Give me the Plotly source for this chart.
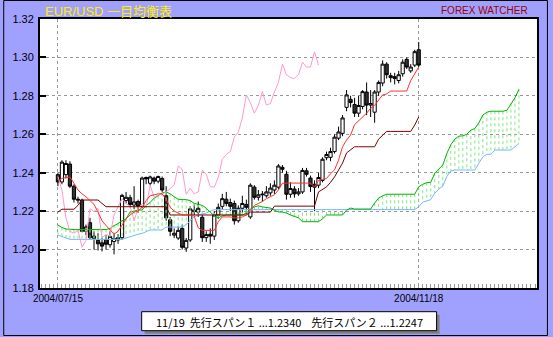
import plotly.graph_objects as go

# ---------------- data ----------------
open_ = [1.2390,1.2352,1.2390,1.2445,1.2330,1.2262,1.2258,1.2095,1.2140,1.2058,
         1.2048,1.2035,1.2052,1.2025,1.2042,1.2062,1.2062,1.2255,1.2270,1.2232,
         1.2250,1.2225,1.2375,1.2345,1.2372,1.2356,1.2370,1.2280,1.2155,1.2075,
         1.2060,1.2110,1.2008,1.2050,1.2205,1.2195,1.2168,1.2062,1.2080,1.2070,
         1.2180,1.2225,1.2262,1.2245,1.2240,1.2150,1.2215,1.2235,1.2170,1.2325,
         1.2272,1.2285,1.2280,1.2295,1.2310,1.2325,1.2428,1.2392,1.2288,1.2315,
         1.2290,1.2300,1.2410,1.2372,1.2340,1.2335,1.2360,1.2478,1.2480,1.2510,
         1.2580,1.2605,1.2740,1.2782,1.2755,1.2710,1.2745,1.2820,1.2752,1.2715,
         1.2820,1.2867,1.2965,1.2905,1.2900,1.2880,1.2915,1.2990,1.2930,1.2960,
         1.3040]
high = [1.2400,1.2465,1.2465,1.2460,1.2340,1.2275,1.2265,1.2130,1.2165,1.2095,
        1.2085,1.2060,1.2075,1.2095,1.2085,1.2080,1.2290,1.2300,1.2285,1.2330,
        1.2260,1.2380,1.2380,1.2385,1.2380,1.2385,1.2380,1.2330,1.2170,1.2110,
        1.2120,1.2130,1.2060,1.2225,1.2235,1.2250,1.2180,1.2095,1.2110,1.2200,
        1.2240,1.2290,1.2300,1.2265,1.2255,1.2230,1.2280,1.2260,1.2345,1.2335,
        1.2310,1.2305,1.2330,1.2345,1.2360,1.2445,1.2440,1.2410,1.2350,1.2330,
        1.2320,1.2425,1.2425,1.2385,1.2360,1.2400,1.2480,1.2510,1.2530,1.2600,
        1.2640,1.2700,1.2830,1.2800,1.2790,1.2800,1.2830,1.2870,1.2830,1.2830,
        1.2880,1.2985,1.2975,1.2920,1.2920,1.2930,1.2990,1.3000,1.2965,1.3040,
        1.3080]
low = [1.2330,1.2340,1.2370,1.2320,1.2245,1.2240,1.2090,1.2075,1.2050,1.2000,
       1.1995,1.1990,1.2000,1.2010,1.1975,1.2030,1.2050,1.2240,1.2220,1.2210,
       1.2190,1.2215,1.2340,1.2335,1.2340,1.2345,1.2300,1.2150,1.2070,1.2060,
       1.2050,1.2000,1.1988,1.2040,1.2180,1.2170,1.2040,1.2040,1.2030,1.2050,
       1.2160,1.2210,1.2225,1.2200,1.2130,1.2140,1.2190,1.2180,1.2160,1.2260,
       1.2255,1.2250,1.2270,1.2280,1.2290,1.2315,1.2400,1.2260,1.2270,1.2270,
       1.2280,1.2290,1.2380,1.2300,1.2200,1.2320,1.2350,1.2465,1.2460,1.2500,
       1.2570,1.2590,1.2720,1.2740,1.2690,1.2690,1.2730,1.2700,1.2690,1.2660,
       1.2800,1.2850,1.2890,1.2870,1.2860,1.2865,1.2900,1.2940,1.2920,1.2950,
       1.2950]
close = [1.2352,1.2455,1.2448,1.2330,1.2262,1.2258,1.2095,1.2118,1.2062,1.2070,
         1.2030,1.2018,1.2028,1.2068,1.2058,1.2050,1.2282,1.2272,1.2235,1.2248,
         1.2225,1.2372,1.2368,1.2378,1.2356,1.2380,1.2310,1.2165,1.2095,1.2085,
         1.2100,1.2012,1.2048,1.2212,1.2198,1.2215,1.2062,1.2078,1.2070,1.2180,
         1.2220,1.2265,1.2240,1.2225,1.2150,1.2215,1.2240,1.2220,1.2335,1.2272,
         1.2285,1.2288,1.2300,1.2320,1.2335,1.2435,1.2418,1.2288,1.2318,1.2290,
         1.2300,1.2412,1.2392,1.2328,1.2325,1.2375,1.2470,1.2495,1.2510,1.2585,
         1.2612,1.2685,1.2805,1.2765,1.2710,1.2750,1.2822,1.2752,1.2760,1.2820,
         1.2870,1.2965,1.2910,1.2895,1.2890,1.2910,1.2975,1.2950,1.2950,1.3030,
         1.2960]

tenkan = [1.2355,1.2370,1.2375,1.2378,1.2345,1.2310,1.2290,1.2275,1.2255,1.2235,
          1.2195,1.2150,1.2125,1.2100,1.2080,1.2095,1.2128,1.2160,1.2180,1.2195,
          1.2200,1.2220,1.2255,1.2280,1.2285,1.2290,1.2290,1.2262,1.2220,1.2200,
          1.2190,1.2180,1.2180,1.2180,1.2175,1.2113,1.2100,1.2100,1.2100,1.2100,
          1.2145,1.2170,1.2170,1.2170,1.2165,1.2165,1.2170,1.2180,1.2205,1.2230,
          1.2240,1.2250,1.2265,1.2275,1.2285,1.2310,1.2345,1.2346,1.2346,1.2346,
          1.2346,1.2346,1.2346,1.2346,1.2325,1.2360,1.2365,1.2370,1.2395,1.2415,
          1.2465,1.2535,1.2570,1.2596,1.2650,1.2670,1.2685,1.2710,1.2735,1.2750,
          1.2778,1.2805,1.2810,1.2825,1.2825,1.2825,1.2825,1.2825,1.2880,1.2915,
          1.2950]
kijun = [1.2195,1.2210,1.2210,1.2210,1.2210,1.2230,1.2258,1.2258,1.2258,1.2258,
         1.2258,1.2240,1.2223,1.2223,1.2223,1.2223,1.2223,1.2223,1.2223,1.2223,
         1.2223,1.2223,1.2223,1.2223,1.2223,1.2223,1.2223,1.2223,1.2180,1.2180,
         1.2180,1.2180,1.2180,1.2180,1.2180,1.2180,1.2180,1.2180,1.2180,1.2180,
         1.2180,1.2180,1.2180,1.2180,1.2180,1.2180,1.2180,1.2180,1.2195,1.2195,
         1.2195,1.2195,1.2195,1.2195,1.2226,1.2226,1.2226,1.2226,1.2226,1.2226,
         1.2226,1.2226,1.2226,1.2226,1.2226,1.2300,1.2315,1.2326,1.2350,1.2378,
         1.2414,1.2450,1.2503,1.2520,1.2535,1.2535,1.2535,1.2535,1.2535,1.2535,
         1.2575,1.2597,1.2615,1.2615,1.2615,1.2615,1.2615,1.2615,1.2615,1.2648,
         1.2690]
span1 = [1.2128,1.2115,1.2107,1.2104,1.2104,1.2104,1.2104,1.2104,1.2104,1.2104,
         1.2104,1.2104,1.2104,1.2110,1.2125,1.2135,1.2150,1.2160,1.2196,1.2200,
         1.2206,1.2206,1.2230,1.2245,1.2268,1.2280,1.2295,1.2300,1.2290,1.2275,
         1.2262,1.2260,1.2260,1.2255,1.2240,1.2235,1.2230,1.2215,1.2195,1.2175,
         1.2165,1.2175,1.2180,1.2180,1.2180,1.2180,1.2180,1.2190,1.2210,1.2222,
         1.2228,1.2222,1.2218,1.2216,1.2205,1.2196,1.2195,1.2190,1.2180,1.2172,
         1.2165,1.2145,1.2145,1.2145,1.2145,1.2145,1.2160,1.2180,1.2180,1.2180,
         1.2180,1.2180,1.2205,1.2216,1.2211,1.2211,1.2211,1.2211,1.2211,1.2242,
         1.2268,1.2280,1.2288,1.2288,1.2288,1.2288,1.2288,1.2288,1.2288,1.2288,
         1.2327,1.2340,1.2348,1.2350,1.2398,1.2420,1.2440,1.2500,1.2545,1.2575,
         1.2590,1.2592,1.2600,1.2622,1.2630,1.2660,1.2700,1.2715,1.2720,1.2720,
         1.2720,1.2720,1.2725,1.2760,1.2790,1.2834]
span2 = [1.2076,1.2067,1.2058,1.2053,1.2053,1.2053,1.2053,1.2053,1.2053,1.2053,
         1.2053,1.2053,1.2053,1.2053,1.2053,1.2053,1.2053,1.2060,1.2067,1.2075,
         1.2080,1.2084,1.2095,1.2102,1.2102,1.2102,1.2102,1.2117,1.2117,1.2117,
         1.2117,1.2117,1.2130,1.2150,1.2170,1.2180,1.2185,1.2190,1.2200,1.2208,
         1.2208,1.2208,1.2208,1.2208,1.2208,1.2208,1.2208,1.2208,1.2208,1.2208,
         1.2208,1.2208,1.2208,1.2208,1.2208,1.2208,1.2208,1.2208,1.2208,1.2208,
         1.2208,1.2208,1.2208,1.2208,1.2208,1.2208,1.2208,1.2208,1.2208,1.2208,
         1.2208,1.2208,1.2208,1.2208,1.2208,1.2208,1.2208,1.2208,1.2208,1.2208,
         1.2208,1.2208,1.2208,1.2208,1.2208,1.2208,1.2208,1.2208,1.2208,1.2208,
         1.2223,1.2247,1.2253,1.2260,1.2293,1.2315,1.2330,1.2380,1.2409,1.2414,
         1.2414,1.2414,1.2414,1.2414,1.2414,1.2450,1.2483,1.2496,1.2496,1.2518,
         1.2518,1.2518,1.2518,1.2518,1.2535,1.2553]
LAG = 25
chikou = close[LAG:]

y_ticks = [1.18, 1.20, 1.22, 1.24, 1.26, 1.28, 1.30, 1.32]
x_tick_idx = [0, 90]
x_tick_text = ["2004/07/15", "2004/11/18"]
title_text = "EUR/USD 一目均衡表"
brand_text = "FOREX WATCHER"
info_text = "11/19  先行スパン１ ...1.2340    先行スパン２ ...1.2247"

# ---------------- figure ----------------
idx = list(range(len(close)))
span_idx = list(range(len(span1)))
chikou_idx = list(range(len(chikou)))

hx, hy = [], []
for i, a, b in zip(span_idx, span1, span2):
    hx += [i, i, None]
    hy += [a, b, None]

fig = go.Figure()
fig.add_trace(go.Scatter(x=hx, y=hy, mode="lines",
                         line=dict(color="#7ee87e", width=1, dash="dot"),
                         hoverinfo="skip", showlegend=False))
fig.add_trace(go.Scatter(x=span_idx, y=span2, mode="lines",
                         line=dict(color="#77b8ff", width=1),
                         showlegend=False))
fig.add_trace(go.Scatter(x=span_idx, y=span1, mode="lines",
                         line=dict(color="#00b400", width=1),
                         showlegend=False))
fig.add_trace(go.Scatter(x=chikou_idx, y=chikou, mode="lines",
                         line=dict(color="#ff99cc", width=1),
                         showlegend=False))
fig.add_trace(go.Scatter(x=idx, y=kijun, mode="lines",
                         line=dict(color="#7a0000", width=1),
                         showlegend=False))
fig.add_trace(go.Scatter(x=idx, y=tenkan, mode="lines",
                         line=dict(color="#ff3030", width=1),
                         showlegend=False))
fig.add_trace(go.Candlestick(
    x=idx, open=open_, high=high, low=low, close=close,
    increasing=dict(line=dict(color="black", width=1), fillcolor="white"),
    decreasing=dict(line=dict(color="black", width=1), fillcolor="#333333"),
    whiskerwidth=0, showlegend=False))

L, R, T, B = 37, 16, 19, 49
W, H = 553, 337
pw, ph = W - L - R, H - T - B

def px(x):
    return (x - L) / pw

def py(y):
    return (H - B - y) / ph

fig.update_layout(
    width=W, height=H,
    margin=dict(l=L, r=R, t=T, b=B, pad=0),
    paper_bgcolor="#a0a0ff", plot_bgcolor="white",
    font=dict(family="Liberation Sans, Arial", size=10, color="black"),
    showlegend=False,
    boxgap=0.2, boxgroupgap=0,
    xaxis=dict(range=[-4.47, 119.5], tickmode="array", tickvals=x_tick_idx,
               ticktext=x_tick_text, ticks="", showgrid=True,
               gridcolor="#999999", griddash="dot", gridwidth=1,
               showline=True, linecolor="black", linewidth=2, mirror=True,
               zeroline=False, rangeslider=dict(visible=False),
               tickfont=dict(size=10),
               minor=dict(tickmode="linear", tick0=0, dtick=1, ticks="inside",
                          ticklen=4, tickcolor="#999999", tickwidth=1,
                          showgrid=False)),
    yaxis=dict(range=[1.18, 1.32], tickmode="array", tickvals=y_ticks,
               tickformat=".2f", ticks="inside", ticklen=6, tickcolor="black",
               tickwidth=2, showgrid=True, gridcolor="#999999", griddash="dot",
               gridwidth=1, showline=True, linecolor="black", linewidth=2,
               mirror=True, zeroline=False, tickfont=dict(size=11),
               ticklabelstandoff=2),
)

# outer frame
fig.add_shape(type="rect", xref="paper", yref="paper",
              x0=px(0.5), x1=px(547.5), y0=py(335.5), y1=py(0.5),
              line=dict(color="black", width=1), fillcolor="rgba(0,0,0,0)")
# info box with shadow
fig.add_shape(type="rect", xref="paper", yref="paper",
              x0=px(142.3), x1=px(439), y0=py(333.7), y1=py(314.7),
              fillcolor="#808080", line=dict(width=0))
fig.add_shape(type="rect", xref="paper", yref="paper",
              x0=px(139.3), x1=px(436), y0=py(330.7), y1=py(311.7),
              fillcolor="white", line=dict(color="black", width=1))
fig.add_annotation(xref="paper", yref="paper", x=px(287.6), y=py(321.5),
                   text=info_text, showarrow=False, xanchor="center",
                   yanchor="middle",
                   font=dict(family="Noto Sans CJK JP", size=11, color="black"))
fig.add_annotation(xref="paper", yref="paper", x=px(40), y=py(11.5),
                   text=title_text, showarrow=False, xanchor="left",
                   yanchor="middle",
                   font=dict(family="Liberation Sans, Noto Sans CJK JP", size=13,
                             color="#ffee00"))
fig.add_annotation(xref="paper", yref="paper", x=px(530), y=py(11),
                   text=brand_text, showarrow=False, xanchor="right",
                   yanchor="middle",
                   font=dict(family="Liberation Sans, Arial", size=10,
                             color="#990000"))

fig.write_html("out.html")
